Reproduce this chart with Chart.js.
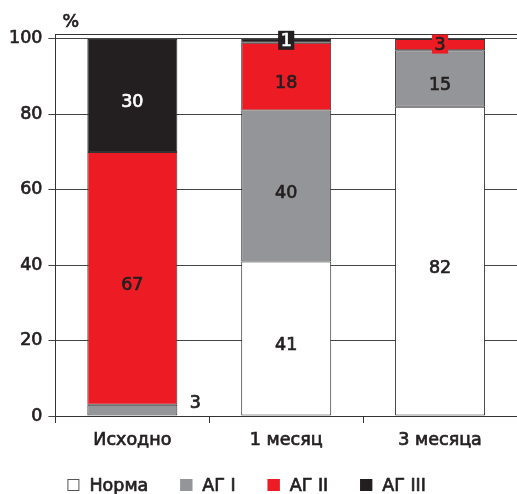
<!DOCTYPE html>
<html>
<head>
<meta charset="utf-8">
<script src="https://cdn.jsdelivr.net/npm/chart.js@4"></script>
<style>
body { margin: 0; background: #fff; }
#wrap { width: 517px; height: 494px; }
</style>
</head>
<body>
<div id="wrap"><canvas id="myChart"></canvas></div>
<script>
var labels = ['Исходно', '1 месяц', '3 месяца'];
var norma = [0, 41, 82];
var ag1 = [3, 40, 15];
var ag2 = [67, 18, 3];
var ag3 = [30, 1, 0];
var yTicks = [0, 20, 40, 60, 80, 100];
var seriesNames = ['Норма', 'АГ I', 'АГ II', 'АГ III'];
var colors = ['#ffffff', '#939598', '#ed1c24', '#231f20'];
var textColors = ['#231f20', '#231f20', '#231f20', '#ffffff'];

var dark = '#231f20';
var fontMain = { family: 'DejaVu Sans', size: 17.5 };
var fontCss = '17.5px "DejaVu Sans"';
var strokeW = 0.7;

// текст чуть жирнее обычного
function boldText(c, s, x, y) {
    c.lineWidth = strokeW;
    c.strokeStyle = c.fillStyle;
    c.strokeText(s, x, y);
    c.fillText(s, x, y);
}

// подписи значений, "%", рамка сверху и легенда
var labelsPlugin = {
    id: 'barLabels',
    beforeDatasetsDraw: function (chart) {
        var c = chart.ctx, a = chart.chartArea;
        c.save();
        c.strokeStyle = '#333';
        c.lineWidth = 1;
        c.beginPath();
        c.moveTo(a.left, a.top + 0.5);
        c.lineTo(a.right, a.top + 0.5);
        c.stroke();
        c.restore();
    },
    afterDatasetsDraw: function (chart) {
        var c = chart.ctx, a = chart.chartArea;
        c.save();
        c.font = fontCss;
        c.textAlign = 'center';
        c.textBaseline = 'middle';
        chart.data.datasets.forEach(function (ds, di) {
            var meta = chart.getDatasetMeta(di);
            meta.data.forEach(function (bar, i) {
                var v = ds.data[i];
                if (!v) return;
                var top = Math.min(bar.y, bar.base);
                var h = Math.abs(bar.base - bar.y);
                var cy = top + h / 2, cx = bar.x;
                if (di == 1 && i == 0) { // маленький сегмент - подпись сбоку
                    c.fillStyle = dark;
                    boldText(c, String(v), bar.x + bar.width / 2 + 18, cy - 7);
                    return;
                }
                if (h < 16) {
                    var w = c.measureText(String(v)).width + 5;
                    c.fillStyle = colors[di];
                    c.fillRect(cx - w / 2, cy - 10, w, 19);
                    c.fillStyle = textColors[di];
                    boldText(c, String(v), cx, cy + 1);
                    return;
                }
                c.fillStyle = textColors[di];
                boldText(c, String(v), cx, cy + 7);
            });
        });

        // "%"
        c.fillStyle = dark;
        c.textAlign = 'left';
        boldText(c, '%', a.left + 7, a.top - 12);

        // легенда
        var x = a.left + 12, y = 485;
        seriesNames.forEach(function (name, di) {
            c.fillStyle = colors[di];
            c.fillRect(x, y - 6, 12, 12);
            c.strokeStyle = di == 0 ? '#555' : colors[di];
            c.lineWidth = 1;
            c.strokeRect(x + 0.5, y - 5.5, 11, 11);
            c.fillStyle = dark;
            boldText(c, name, x + 22, y + 1);
            x += 22 + c.measureText(name).width + 32;
        });
        c.restore();
    }
};

var series = [norma, ag1, ag2, ag3];
var datasets = series.map(function (d, i) {
    return {
        label: seriesNames[i],
        data: d,
        backgroundColor: colors[i],
        borderColor: '#333',
        borderWidth: 1,
        borderSkipped: false,
        barPercentage: 0.585,
        categoryPercentage: 1
    };
});

var ctx = document.getElementById('myChart');
var myChart = new Chart(ctx, {
    type: 'bar',
    data: { labels: labels, datasets: datasets },
    options: {
        responsive: true,
        maintainAspectRatio: false,
        animation: false,
        layout: { padding: { left: 3, top: 34, right: 0, bottom: 36 } },
        plugins: { legend: { display: false }, tooltip: { enabled: false } },
        scales: {
            x: {
                stacked: true,
                grid: { display: true, drawOnChartArea: false, drawTicks: true, tickLength: 7, color: '#333', offset: true },
                border: { color: '#333', width: 1 },
                ticks: { font: fontMain, color: dark, padding: 7, textStrokeColor: dark, textStrokeWidth: strokeW }
            },
            y: {
                stacked: true,
                min: 0,
                max: 101.3,
                afterBuildTicks: function (s) {
                    s.ticks = yTicks.map(function (v) { return { value: v }; });
                },
                grid: { color: '#444', tickLength: 7 },
                border: { color: '#333', width: 1 },
                ticks: { font: fontMain, color: dark, padding: 6, textStrokeColor: dark, textStrokeWidth: strokeW }
            }
        }
    },
    plugins: [labelsPlugin]
});
</script>
</body>
</html>
